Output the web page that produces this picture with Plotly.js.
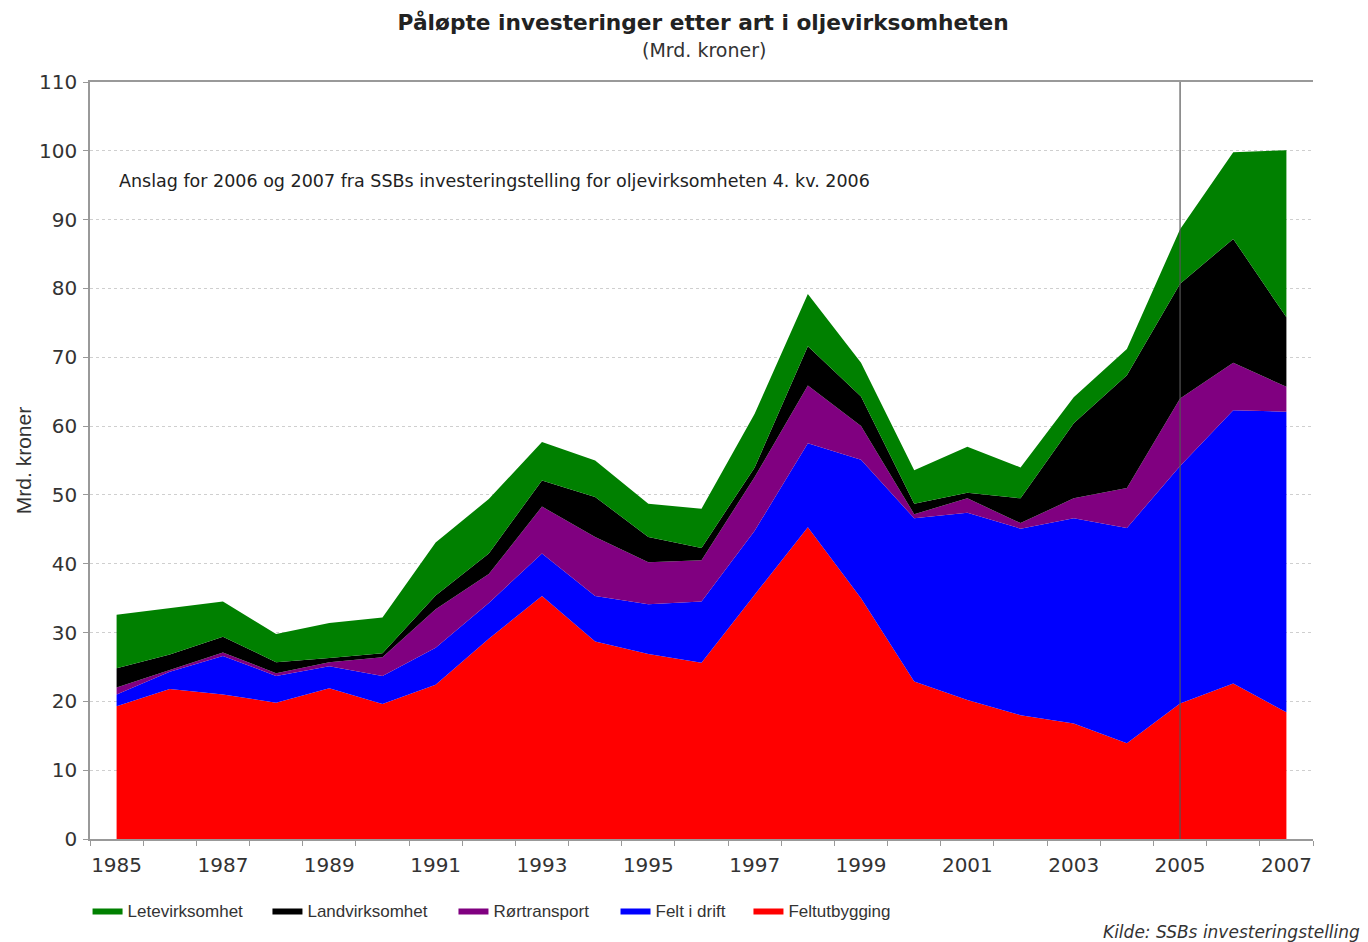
<!DOCTYPE html>
<html>
<head>
<meta charset="utf-8">
<script src="https://cdn.plot.ly/plotly-3.0.1.min.js"></script>
<style>html,body{margin:0;padding:0;background:#fff;}#chart{width:1368px;height:942px;}</style>
</head>
<body>
<div id="chart"></div>
<script>
const years = [1985,1986,1987,1988,1989,1990,1991,1992,1993,1994,1995,1996,1997,1998,1999,2000,2001,2002,2003,2004,2005,2006,2007];
const feltutbygging = [19.3,21.8,21.0,19.8,21.9,19.6,22.4,29.1,35.3,28.7,26.9,25.6,35.5,45.3,35.0,22.9,20.2,18.0,16.8,13.9,19.7,22.6,18.4];
const feltIDrift    = [1.7,2.5,5.6,3.9,3.2,4.1,5.4,5.2,6.2,6.6,7.2,8.9,9.3,12.2,20.1,23.7,27.2,27.1,29.8,31.3,34.5,39.7,43.7];
const rortransport  = [1.0,0.3,0.5,0.4,0.6,2.7,5.6,4.2,6.8,8.6,6.1,6.0,7.8,8.4,4.9,0.6,2.1,0.8,2.9,5.8,9.8,6.9,3.6];
const landvirksomhet= [2.8,2.2,2.3,1.6,0.6,0.6,2.0,3.0,3.8,5.8,3.7,1.8,1.4,5.7,4.3,1.5,0.8,3.6,10.9,16.4,16.7,18.0,10.1];
const letevirksomhet= [7.8,6.8,5.1,4.1,5.1,5.2,7.7,7.9,5.6,5.3,4.8,5.7,7.8,7.6,4.9,4.9,6.7,4.5,3.8,3.8,7.9,12.6,24.3];
const seriesNames = ['Feltutbygging','Felt i drift','Rørtransport','Landvirksomhet','Letevirksomhet'];
const seriesColors = ['#ff0000','#0000ff','#800080','#000000','#008000'];
const seriesValues = [feltutbygging, feltIDrift, rortransport, landvirksomhet, letevirksomhet];
const yTicks = [0,10,20,30,40,50,60,70,80,90,100,110];
const xTickLabels = [1985,1987,1989,1991,1993,1995,1997,1999,2001,2003,2005,2007];

// one legend per series so each entry sits where the reference puts it
const legendIds = ['legend5','legend4','legend3','legend2','legend'];
const legendX = [0.5384, 0.4297, 0.2972, 0.1451, -0.002];

const traces = seriesValues.map((vals, i) => ({
  x: years, y: vals, name: seriesNames[i], type: 'scatter', mode: 'lines',
  stackgroup: 'one', line: {width: 0, color: seriesColors[i]}, fillcolor: seriesColors[i],
  legend: legendIds[i], hoverinfo: 'x+y+name'
}));

const tickFont = {family: 'DejaVu Sans, sans-serif', size: 20, color: '#333'};
const legendFont = {family: 'Liberation Sans, sans-serif', size: 17, color: '#333'};
const layout = {
  width: 1368, height: 942,
  margin: {l: 90, r: 55, t: 82, b: 103},
  paper_bgcolor: '#fff', plot_bgcolor: '#fff',
  showlegend: true,
  title: {text: '<b>Påløpte investeringer etter art i oljevirksomheten</b>', x: 0.514, xanchor: 'center', y: 0.976, yanchor: 'middle',
          font: {family: 'DejaVu Sans, sans-serif', size: 21.7, color: '#222'}},
  xaxis: {range: [1984.5, 2007.5], tickvals: xTickLabels, ticktext: xTickLabels.map(String), ticks: '',
          showgrid: false, zeroline: false, showline: true, linecolor: '#999', linewidth: 1.5, mirror: true,
          tickfont: tickFont, ticklabelstandoff: 7,
          minor: {tick0: 1984.5, dtick: 1, ticks: 'outside', ticklen: 5, tickcolor: '#999', showgrid: false}},
  yaxis: {range: [0, 110], tickvals: yTicks, ticks: 'outside', ticklen: 5, tickcolor: '#999',
          showgrid: true, gridcolor: '#cfcfcf', griddash: 'dot', gridwidth: 1, zeroline: false,
          showline: true, linecolor: '#999', linewidth: 1.5, tickfont: tickFont, ticklabelstandoff: 2,
          title: {text: 'Mrd. kroner', font: {family: 'Liberation Sans, sans-serif', size: 21, color: '#333'}, standoff: 2}},
  yaxis2: {range: [0, 110], tickvals: yTicks, overlaying: 'y', side: 'right', ticks: 'outside', ticklen: 5, tickcolor: '#999',
           showgrid: false, zeroline: false, showline: true, linecolor: '#999', linewidth: 1.5, tickfont: tickFont, ticklabelstandoff: 5},
  shapes: [{type: 'line', xref: 'x', yref: 'paper', x0: 2005, x1: 2005, y0: 0, y1: 1, line: {color: '#555', width: 1.2}}],
  annotations: [
    {text: '(Mrd. kroner)', xref: 'paper', yref: 'paper', x: 0.502, y: 1.0, yshift: 32, xanchor: 'center', yanchor: 'middle', showarrow: false,
     font: {family: 'DejaVu Sans, sans-serif', size: 19, color: '#333'}},
    {text: 'Anslag for 2006 og 2007 fra SSBs investeringstelling for oljevirksomheten 4. kv. 2006', xref: 'x', yref: 'y', x: 1985, y: 95.6, xanchor: 'left', yanchor: 'middle', showarrow: false,
     font: {family: 'DejaVu Sans, sans-serif', size: 17.5, color: '#222'}},
    {text: '<i>Kilde: SSBs investeringstelling</i>', xref: 'paper', yref: 'paper', x: 1.04, y: -0.123, xanchor: 'right', yanchor: 'middle', showarrow: false,
     font: {family: 'DejaVu Sans, sans-serif', size: 17, color: '#333'}}
  ]
};
legendIds.forEach((id, i) => {
  layout[id] = {orientation: 'h', x: legendX[i], xanchor: 'left', y: -0.095, yanchor: 'middle',
                font: legendFont, itemwidth: 30, bgcolor: 'rgba(0,0,0,0)'};
});
Plotly.newPlot('chart', traces, layout, {displayModeBar: false, responsive: false});
</script>
</body>
</html>
